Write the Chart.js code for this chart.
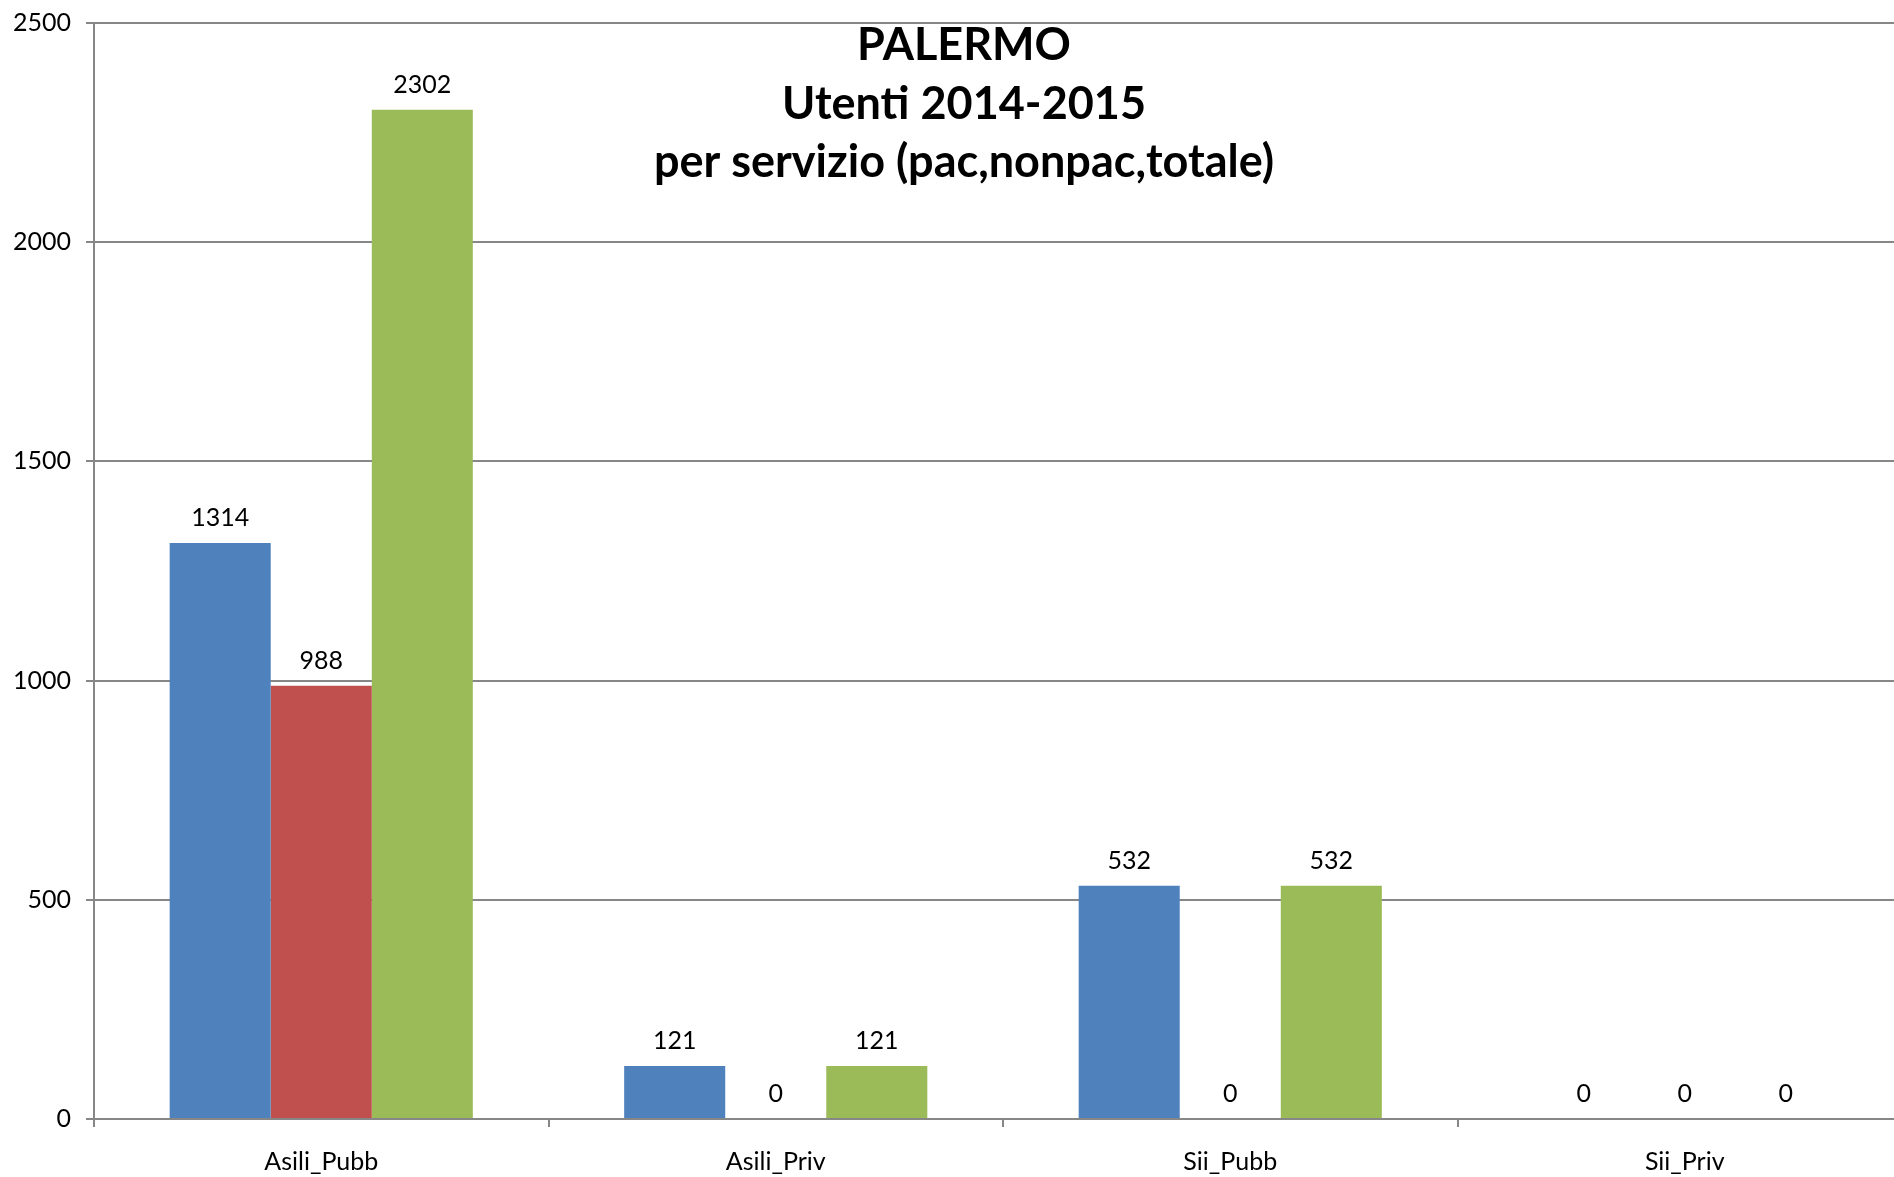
<!DOCTYPE html>
<html>
<head>
<meta charset="utf-8">
<script src="https://cdn.jsdelivr.net/npm/chart.js@4/dist/chart.umd.min.js"></script>
<style>
html,body{margin:0;padding:0;background:#fff;overflow:hidden;width:1894px;height:1177px;}
#wrap{position:absolute;left:0;top:0;width:1920px;height:1177px;}
</style>
</head>
<body>
<div id="wrap"><canvas id="c" width="1920" height="1177"></canvas></div>
<script>
const categories = ["Asili_Pubb", "Asili_Priv", "Sii_Pubb", "Sii_Priv"];
const seriesNames = ["pac", "nonpac", "totale"];
const pac = [1314, 121, 532, 0];
const nonpac = [988, 0, 0, 0];
const totale = [2302, 121, 532, 0];
const titleLines = ["PALERMO", "Utenti 2014-2015", "per servizio (pac,nonpac,totale)"];
const yTicks = [0, 500, 1000, 1500, 2000, 2500];

const FONT = "Lato, 'Open Sans', sans-serif";
const GRID = "#878787";

const valueLabels = {
  id: "valueLabels",
  afterDatasetsDraw(chart) {
    const ctx = chart.ctx;
    ctx.save();
    ctx.font = "25px " + FONT;
    ctx.fillStyle = "#000";
    ctx.textAlign = "center";
    ctx.textBaseline = "middle";
    chart.data.datasets.forEach((ds, i) => {
      const meta = chart.getDatasetMeta(i);
      meta.data.forEach((bar, j) => {
        ctx.fillText(String(ds.data[j]), bar.x, bar.y - 25);
      });
    });
    ctx.restore();
  }
};

const titlePlugin = {
  id: "overlayTitle",
  afterDraw(chart) {
    const ctx = chart.ctx;
    ctx.save();
    ctx.font = "bold 45px " + FONT;
    ctx.fillStyle = "#000";
    ctx.textAlign = "center";
    ctx.textBaseline = "middle";
    const ys = [45, 104, 162];
    titleLines.forEach((t, i) => ctx.fillText(t, 964, ys[i]));
    ctx.restore();
  }
};

new Chart(document.getElementById("c"), {
  type: "bar",
  data: {
    labels: categories,
    datasets: [
      { label: seriesNames[0], data: pac, backgroundColor: "#4F81BD" },
      { label: seriesNames[1], data: nonpac, backgroundColor: "#C0504D" },
      { label: seriesNames[2], data: totale, backgroundColor: "#9BBB59" }
    ]
  },
  options: {
    responsive: false,
    animation: false,
    devicePixelRatio: 1,
    layout: { padding: { top: 23, right: 8, bottom: 0, left: 0 } },
    datasets: { bar: { barPercentage: 1.0, categoryPercentage: 0.667 } },
    plugins: {
      legend: { display: false },
      title: { display: false },
      tooltip: { enabled: false }
    },
    scales: {
      x: {
        grid: { drawOnChartArea: false, drawTicks: true, tickLength: 8, color: GRID, lineWidth: 2, offset: true },
        border: { display: true, color: GRID, width: 2 },
        ticks: { color: "#000", font: { family: FONT, size: 25 }, padding: 20, maxRotation: 0 },
        afterFit(scale) { scale.height = 58; scale.paddingLeft = 0; scale.paddingRight = 0; }
      },
      y: {
        min: 0,
        max: 2500,
        afterBuildTicks(scale) { scale.ticks = yTicks.map(v => ({ value: v })); },
        grid: { color: GRID, lineWidth: 2, tickLength: 8, drawTicks: true },
        border: { display: true, color: GRID, width: 2 },
        ticks: { color: "#000", font: { family: FONT, size: 25 }, padding: 15, callback: (v) => String(v) },
        afterFit(scale) { scale.width = 94; scale.paddingTop = 0; scale.paddingBottom = 0; }
      }
    }
  },
  plugins: [valueLabels, titlePlugin]
});
</script>
</body>
</html>
